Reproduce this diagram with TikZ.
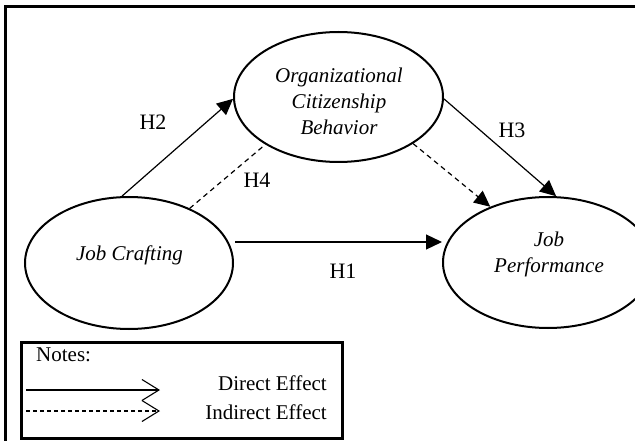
\documentclass[tikz,border=0pt]{standalone}
\usepackage{fontspec}
\setmainfont{Liberation Serif}
\usetikzlibrary{arrows.meta,shapes.geometric}
\begin{document}
\begin{tikzpicture}[x=1pt,y=-1pt,
  construct/.style={draw, ellipse, line width=2pt, inner sep=0pt},
  conceptlabel/.style={font=\fontsize{21}{26}\selectfont\itshape, align=center, inner sep=0pt},
  hyplabel/.style={font=\fontsize{22}{26}\selectfont, inner sep=0pt},
  legendtext/.style={font=\fontsize{21}{26}\selectfont, inner sep=0pt},
  direct/.style={line width=1.2pt, -{Triangle[length=16pt,width=15pt]}},
  indirect/.style={line width=1.2pt, dash pattern=on 5pt off 4pt},
  legendarrow/.style={line width=1.1pt, -{Straight Barb[length=17pt,width=21pt,line width=1.1pt]}},
  framebox/.style={line width=3pt}
]
\useasboundingbox (0,0) rectangle (635,441);
\clip (0,0) rectangle (635,441);

% outer frame (cut at right and bottom)
\draw[framebox] (5,470) -- (5,7) -- (660,7);

% constructs
\node[construct, minimum width=209pt, minimum height=130pt] (ocb) at (338.5,97) {};
\node[construct, minimum width=208pt, minimum height=132pt] (jc) at (129,263) {};
\node[construct, minimum width=210pt, minimum height=131pt] (jp) at (548,262.5) {};

\node[conceptlabel] (ocbt) at (339,101) {Organizational\\Citizenship\\Behavior};
\node[conceptlabel] (jct) at (129.5,255) {Job Crafting};
\node[conceptlabel] (jpt) at (549,254.5) {Job\\Performance};

% connectors
\coordinate (h1s) at (235,242);
\draw[direct] (h1s) -- (h1s -| jp.west);
\draw[direct] (jc.96) -- (ocb.181);
\draw[direct] (ocb.359) -- (jp.83);
\draw[indirect] (jc.42) -- (ocb.213);
\draw[indirect, -{Triangle[length=16pt,width=15pt]}] (ocb.328) -- (jp.136);

% hypothesis labels
\node[hyplabel] (h1) at (343,271) {H1};
\node[hyplabel] (h2) at (153,122) {H2};
\node[hyplabel] (h3) at (512,130) {H3};
\node[hyplabel] (h4) at (257,180) {H4};

% legend
\node[draw, framebox, minimum width=321pt, minimum height=96pt, inner sep=0pt] (legend) at (181.5,390) {};
\node[legendtext, anchor=west] (notes) at (36,355) {Notes:};
\node[legendtext, anchor=east] (de) at (327,383) {Direct Effect};
\node[legendtext, anchor=east] (ie) at (327,412) {Indirect Effect};
\coordinate (ls1) at (26,390);
\coordinate (le1) at (160,390);
\coordinate (ls2) at (26,411);
\coordinate (le2) at (160,411);
\draw[legendarrow] (ls1) -- (le1);
\draw[legendarrow, dash pattern=on 4pt off 3pt] (ls2) -- (le2);
\end{tikzpicture}
\end{document}
